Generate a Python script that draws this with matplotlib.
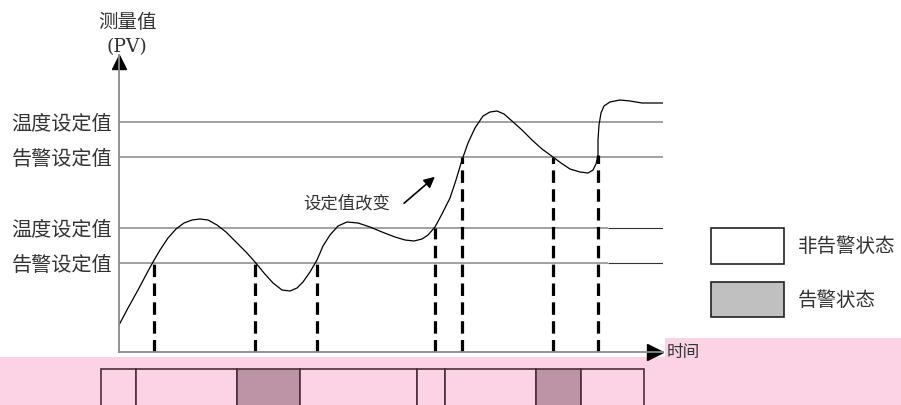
import numpy as np
import matplotlib
matplotlib.use("Agg")
from matplotlib import pyplot as plt
from matplotlib.patches import Rectangle

plt.rcParams['font.family'] = ['Noto Sans CJK SC', 'DejaVu Sans']

curve_t = [0, 9, 19, 28, 34, 41, 49, 57, 65, 73, 81, 89, 98, 107, 117, 127, 136,
           145, 154, 163, 171, 178, 184, 191, 198, 204, 211, 219, 228, 239, 251,
           263, 276, 286, 295, 303, 309, 316, 323, 331, 337, 343, 349, 356, 364,
           371, 378, 385, 393, 403, 413, 423, 434, 442, 451, 461, 469, 474, 477,
           479, 479, 480, 482, 485, 491, 501, 511, 523, 544]
curve_pv = [27, 44, 62, 79, 90, 102, 114, 123, 129, 132, 133, 132, 127, 120, 110,
            100, 90, 79, 69, 62, 61, 64, 70, 80, 92, 106, 117, 126, 130, 129, 125,
            120, 115, 112, 111, 113, 117, 125, 138, 154, 172, 192, 209, 224, 236,
            240, 241, 238, 231, 222, 212, 203, 195, 189, 183, 180, 179, 182, 188,
            197, 212, 227, 239, 246, 250, 252, 251, 249, 249]

# set values (old low pair, new high pair)
set_levels = [89, 124, 195, 230]
set_labels = ['告警设定值', '温度设定值', '告警设定值', '温度设定值']
old_levels = [89, 124]
new_levels = [195, 230]

# moments the curve crosses the alarm/temperature set value
cross_t = [35, 136, 198, 316, 343, 434, 479]
cross_pv = [89, 89, 89, 124, 195, 195, 197]

# state strip (time edges and state per segment, 1 = alarm)
state_edges = [-18, 17, 118, 181, 298, 326, 417, 462, 525]
state_alarm = [0, 0, 1, 0, 0, 0, 1, 0]

pink = '#fbd3e4'
alarm_col = '#bd94a5'
edge_col = '#4d2d38'
txt_col = '#333333'

fig = plt.figure(figsize=(9.01, 4.05), dpi=100)

# background layer in pixel units
bg = fig.add_axes([0, 0, 1, 1])
bg.set_xlim(0, 901)
bg.set_ylim(405, 0)
bg.axis('off')
bg.add_patch(Rectangle((0, 357), 901, 48, color=pink, lw=0))
bg.add_patch(Rectangle((665, 338), 236, 20, color=pink, lw=0))

bg.text(127, 22, '测量值', ha='center', va='center', fontsize=14, color=txt_col)
bg.text(127, 47, '(PV)', ha='center', va='center', fontsize=13.5, color=txt_col,
        family='DejaVu Serif')
bg.text(667, 352, '时间', ha='left', va='center', fontsize=12, color=txt_col)

# legend
bg.add_patch(Rectangle((711, 228), 73, 36, facecolor='white', edgecolor='#222222', lw=1.2))
bg.add_patch(Rectangle((711, 282), 73, 35, facecolor='#c0c0c0', edgecolor='#222222', lw=1.2))
bg.text(798, 246, '非告警状态', ha='left', va='center', fontsize=14, color=txt_col)
bg.text(798, 300, '告警状态', ha='left', va='center', fontsize=14, color=txt_col)

# main chart
ax = fig.add_axes([119/901, 53/405, 544/901, 297/405])
ax.set_facecolor('none')
ax.set_xlim(0, 544)
ax.set_ylim(0, 297)
for s in ['top', 'right']:
    ax.spines[s].set_visible(False)
for s in ['left', 'bottom']:
    ax.spines[s].set_color('#8a8a8a')
    ax.spines[s].set_linewidth(1.3)
ax.set_xticks([])
ax.set_yticks(set_levels)
ax.set_yticklabels(set_labels, fontsize=14.5, color=txt_col)
ax.tick_params(axis='y', length=0, pad=5)

ax.hlines(new_levels, 0, 544, color='#9a9a9a', lw=1.3)
ax.hlines(old_levels, 0, 489, color='#9a9a9a', lw=1.3)
ax.hlines(old_levels, 489, 544, color='#333333', lw=0.8)

ax.plot(curve_t, curve_pv, color='black', lw=0.9)
ax.vlines(cross_t, 0, cross_pv, color='black', lw=2.3, linestyles=(0, (3.9, 2.0)))

# axis arrow heads
ax.plot(0, 290.5, marker='^', ms=9.5, color='black', clip_on=False)
ax.plot(536, 0, marker='>', ms=11, color='black', clip_on=False)

ax.text(228, 149, '设定值改变', ha='center', va='center', fontsize=12.5, color=txt_col)
ax.annotate('', xy=(318, 177), xytext=(283, 147),
            arrowprops=dict(arrowstyle='-|>', color='black', lw=1.2, mutation_scale=16))

# alarm state strip, bottom edge runs off the picture
sx = fig.add_axes([0, -4/405, 1, 40/405])
sx.set_facecolor('none')
sx.set_xlim(-119, 782)
sx.set_ylim(0, 1)
sx.axis('off')
for i, a in enumerate(state_alarm):
    sx.bar(state_edges[i], 1, width=state_edges[i+1] - state_edges[i], align='edge',
           color=alarm_col if a else pink, edgecolor=edge_col, lw=1.2, clip_on=False)

fig.savefig('out.png', dpi=100)
